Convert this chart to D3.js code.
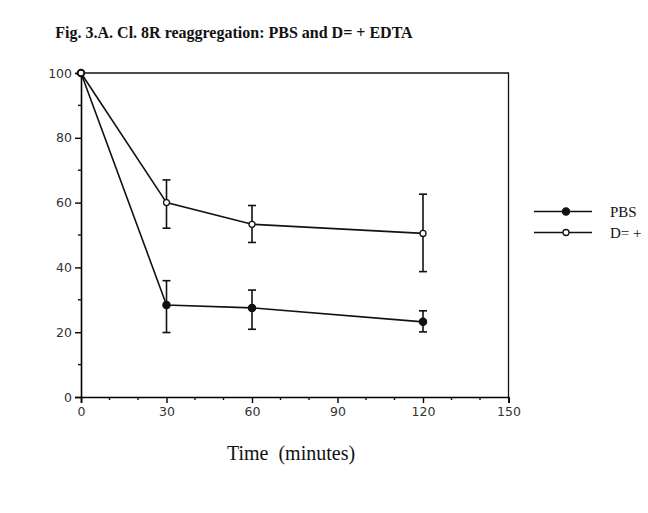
<!DOCTYPE html>
<html>
<head>
<meta charset="utf-8">
<script src="https://cdn.jsdelivr.net/npm/d3@7"></script>
<style>
  body { margin: 0; background: #fff; }
  svg { display: block; }
</style>
</head>
<body>
<div id="chart"></div>
<script>
// time points (minutes)
const times = [0, 30, 60, 120];

// PBS (filled markers)
const pbsMean = [100, 28.4, 27.5, 23.2];
const pbsHigh = [100, 35.9, 33.0, 26.6];
const pbsLow = [100, 19.9, 20.9, 20.1];

// D= + EDTA (open markers)
const edtaMean = [100, 60.0, 53.3, 50.5];
const edtaHigh = [100, 67.0, 59.1, 62.6];
const edtaLow = [100, 52.1, 47.7, 38.7];

const xTicks = [0, 30, 60, 90, 120, 150];
const yTicks = [0, 20, 40, 60, 80, 100];
const legendLabels = ["PBS", "D= +"];

const width = 648;
const height = 513;
const margin = { top: 73, right: 140, bottom: 116, left: 81 };

const x = d3.scaleLinear()
   .domain([0, 150])
   .range([margin.left, width - margin.right + 0.5]);

const y = d3.scaleLinear()
   .domain([0, 100])
   .range([height - margin.bottom, margin.top]);

const svg = d3.select("#chart")
   .append("svg")
   .attr("width", width)
   .attr("height", height);

const ink = "#111";
const serif = "'Palatino Linotype', 'Book Antiqua', 'Liberation Serif', serif";

// title
svg.append("text")
   .attr("x", 234)
   .attr("y", 38)
   .attr("text-anchor", "middle")
   .style("font-family", serif)
   .style("font-weight", "bold")
   .style("font-size", "16px")
   .attr("fill", ink)
   .text("Fig. 3.A. Cl. 8R reaggregation: PBS and D= + EDTA");

// frame top + right
svg.append("path")
   .attr("d", `M${x(0)},${y(100)}H${x(150)}V${y(0)}`)
   .attr("fill", "none")
   .attr("stroke", ink)
   .attr("stroke-width", 1.3);

// left axis
const yAxis = g => {
   g.attr("transform", `translate(${x(0)},0)`)
      .style("font-family", "'DejaVu Sans', sans-serif")
      .style("font-size", "12.5px")
      .call(d3.axisLeft(y).tickValues(yTicks).tickSize(6).tickPadding(3))
      .call(g => g.select(".domain").attr("stroke-width", 1.6))
      .call(g => g.selectAll(".tick line").attr("stroke-width", 1.4))
      .call(g => g.selectAll(".tick text").attr("fill", "#333"));
   g.append("g")
      .selectAll("line")
      .data(d3.range(10, 100, 20))
      .join("line")
      .attr("x1", -3).attr("x2", 0)
      .attr("y1", d => y(d)).attr("y2", d => y(d))
      .attr("stroke", ink).attr("stroke-width", 1.4);
};

// bottom axis
const xAxis = g => {
   g.attr("transform", `translate(0,${y(0)})`)
      .style("font-family", "'DejaVu Sans', sans-serif")
      .style("font-size", "12.5px")
      .call(d3.axisBottom(x).tickValues(xTicks).tickSize(6).tickPadding(4))
      .call(g => g.select(".domain").attr("stroke-width", 1.6))
      .call(g => g.selectAll(".tick line").attr("stroke-width", 1.4))
      .call(g => g.selectAll(".tick text").attr("fill", "#333"));
   g.append("g")
      .selectAll("line")
      .data(d3.range(10, 150, 10).filter(d => d % 30 !== 0))
      .join("line")
      .attr("x1", d => x(d)).attr("x2", d => x(d))
      .attr("y1", 0).attr("y2", 3)
      .attr("stroke", ink).attr("stroke-width", 1.4);
};

svg.append("g").call(yAxis);
svg.append("g").call(xAxis);

// x label
svg.append("text")
   .attr("x", 291)
   .attr("y", 460)
   .attr("text-anchor", "middle")
   .style("font-family", serif)
   .style("font-size", "20px")
   .attr("fill", ink)
   .style("white-space", "pre")
   .text("Time  (minutes)");

const series = [
   { mean: edtaMean, high: edtaHigh, low: edtaLow, filled: false },
   { mean: pbsMean, high: pbsHigh, low: pbsLow, filled: true }
];

const line = d3.line().x(d => x(d[0])).y(d => y(d[1]));

series.forEach(s => {
   const pts = times.map((t, i) => [t, s.mean[i], s.high[i], s.low[i]]);

   svg.append("path")
      .datum(pts)
      .attr("d", line)
      .attr("fill", "none")
      .attr("stroke", ink)
      .attr("stroke-width", 1.6);

   const bars = svg.append("g")
      .attr("stroke", ink)
      .attr("stroke-width", 1.6)
      .selectAll("g")
      .data(pts.filter(p => p[2] !== p[3]))
      .join("g");

   bars.append("line")
      .attr("x1", d => x(d[0])).attr("x2", d => x(d[0]))
      .attr("y1", d => y(d[2])).attr("y2", d => y(d[3]));
   bars.append("line")
      .attr("x1", d => x(d[0]) - 4).attr("x2", d => x(d[0]) + 4)
      .attr("y1", d => y(d[2])).attr("y2", d => y(d[2]));
   bars.append("line")
      .attr("x1", d => x(d[0]) - 4).attr("x2", d => x(d[0]) + 4)
      .attr("y1", d => y(d[3])).attr("y2", d => y(d[3]));
});

// markers drawn last; open ones on top
[series[1], series[0]].forEach(s => {
   svg.append("g")
      .selectAll("circle")
      .data(times.map((t, i) => [t, s.mean[i]]))
      .join("circle")
      .attr("cx", d => x(d[0]))
      .attr("cy", d => y(d[1]))
      .attr("r", s.filled ? 3.6 : 3)
      .attr("fill", s.filled ? ink : "#fff")
      .attr("stroke", ink)
      .attr("stroke-width", 1.3);
});

// legend
const legend = svg.append("g")
   .selectAll("g")
   .data(legendLabels)
   .join("g")
   .attr("transform", (d, i) => `translate(534,${211.5 + i * 21})`);

legend.append("line")
   .attr("x1", 0).attr("x2", 58)
   .attr("stroke", ink).attr("stroke-width", 1.6);
legend.append("circle")
   .attr("cx", 32).attr("cy", 0)
   .attr("r", (d, i) => i === 0 ? 3.6 : 3)
   .attr("fill", (d, i) => i === 0 ? ink : "#fff")
   .attr("stroke", ink).attr("stroke-width", 1.3);
legend.append("text")
   .attr("x", 76)
   .attr("y", 5)
   .style("font-family", serif)
   .style("font-size", "15px")
   .attr("fill", ink)
   .text(d => d);
</script>
</body>
</html>
